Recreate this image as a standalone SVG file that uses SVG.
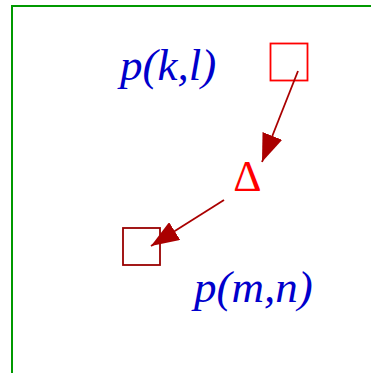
<svg xmlns="http://www.w3.org/2000/svg" width="371" height="373" viewBox="0 0 371 373">
<style>
.lbl{font-family:"Liberation Serif","Times New Roman",serif;font-style:italic;font-size:45px;fill:#0000cc}
.edge{stroke:#aa0000;stroke-width:1.8;fill:none}
</style>
<defs>
<marker id="ah" markerUnits="userSpaceOnUse" markerWidth="28" markerHeight="21" refX="28" refY="10.5" orient="auto">
<path d="M0,0 L28,10.5 L0,21 Z" fill="#aa0000"/>
</marker>
</defs>
<rect width="371" height="373" fill="#ffffff"/>
<g id="frame"><rect x="12" y="6" width="380" height="400" fill="none" stroke="#009900" stroke-width="2"/></g>
<g id="label-pkl"><text class="lbl" x="120" y="80">p(k,l)</text></g>
<g id="box-top"><rect x="270.5" y="43.5" width="37" height="37" fill="none" stroke="#ff0000" stroke-width="1.8"/></g>
<g id="delta"><text x="247.5" y="191" text-anchor="middle" font-family="Liberation Serif,serif" font-size="44" fill="#ff0000">Δ</text></g>
<g id="box-bottom"><rect x="123" y="228" width="37" height="37" fill="none" stroke="#990000" stroke-width="1.8"/></g>
<g id="label-pmn"><text class="lbl" x="194" y="302">p(m,n)</text></g>
<g id="connectors">
<line class="edge" x1="298" y1="71" x2="262" y2="162" marker-end="url(#ah)"/>
<line class="edge" x1="224" y1="200" x2="151" y2="246" marker-end="url(#ah)"/>
</g>
</svg>
